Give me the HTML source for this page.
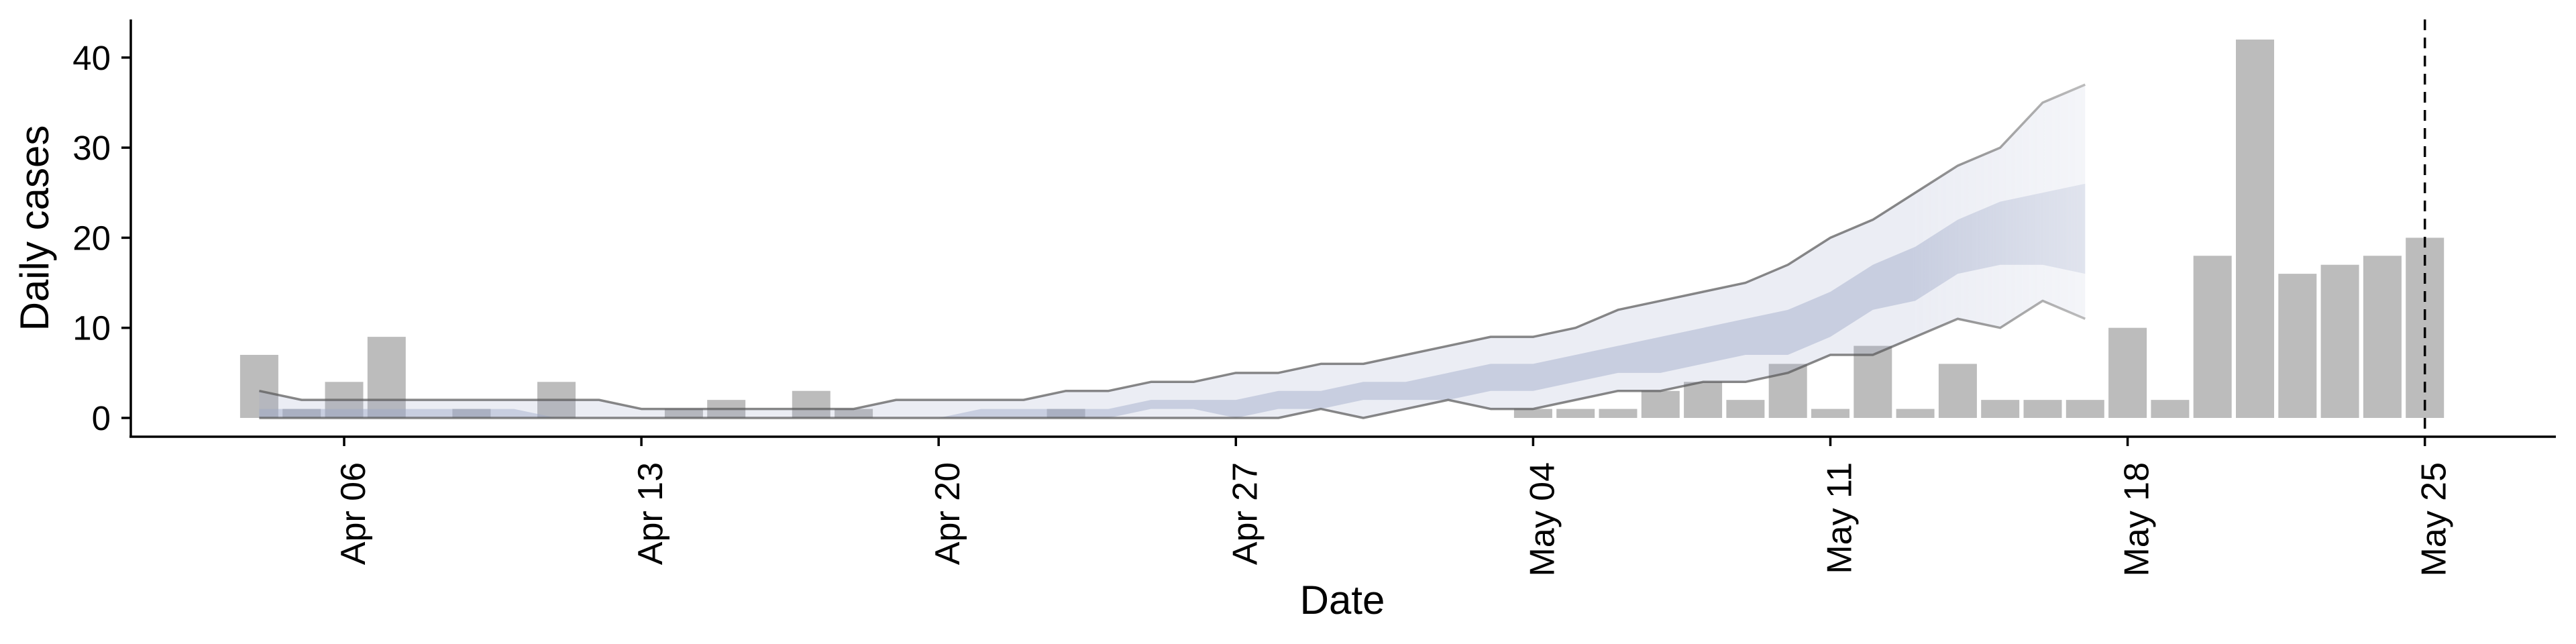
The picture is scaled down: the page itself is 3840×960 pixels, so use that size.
<!DOCTYPE html>
<html><head><meta charset="utf-8"><style>
html,body{margin:0;padding:0;background:#fff;}
svg{display:block;font-family:"Liberation Sans",Arial,sans-serif;}
</style></head><body>
<svg id="chart" width="3840" height="960" viewBox="0 0 3840 960" xmlns="http://www.w3.org/2000/svg">
<defs>
<linearGradient id="fadeGrad" gradientUnits="userSpaceOnUse" x1="2850" y1="0" x2="3110" y2="0">
<stop offset="0" stop-color="#fff" stop-opacity="1"/>
<stop offset="1" stop-color="#fff" stop-opacity="0.55"/>
</linearGradient>
<mask id="fadeMask" maskUnits="userSpaceOnUse" x="0" y="0" width="3840" height="960">
<rect x="0" y="0" width="3840" height="960" fill="url(#fadeGrad)"/>
</mask>
</defs>
<g id="bars"></g>
<g id="ribbons" mask="url(#fadeMask)"></g>
<g id="axes"></g>
</svg>
<script>
// ---- data ----
const barDates = ["2020-04-04","2020-04-05","2020-04-06","2020-04-07","2020-04-09","2020-04-11","2020-04-14","2020-04-15","2020-04-17","2020-04-18","2020-04-23","2020-05-04","2020-05-05","2020-05-06","2020-05-07","2020-05-08","2020-05-09","2020-05-10","2020-05-11","2020-05-12","2020-05-13","2020-05-14","2020-05-15","2020-05-16","2020-05-17","2020-05-18","2020-05-19","2020-05-20","2020-05-21","2020-05-22","2020-05-23","2020-05-24","2020-05-25"];
const barValues = [7,1,4,9,1,4,1,2,3,1,1,1,1,1,3,4,2,6,1,8,1,6,2,2,2,10,2,18,42,16,17,18,20];
const ribbonStart = "2020-04-04";
const outerUpper = [3,2,2,2,2,2,2,2,2,1,1,1,1,1,1,2,2,2,2,3,3,4,4,5,5,6,6,7,8,9,9,10,12,13,14,15,17,20,22,25,28,30,35,37];
const outerLower = [0,0,0,0,0,0,0,0,0,0,0,0,0,0,0,0,0,0,0,0,0,0,0,0,0,1,0,1,2,1,1,2,3,3,4,4,5,7,7,9,11,10,13,11];
const innerUpper = [1,1,1,1,1,1,1,0,0,0,0,0,0,0,0,0,0,1,1,1,1,2,2,2,3,3,4,4,5,6,6,7,8,9,10,11,12,14,17,19,22,24,25,26];
const innerLower = [0,0,0,0,0,0,0,0,0,0,0,0,0,0,0,0,0,0,0,0,0,1,1,0,1,1,2,2,2,3,3,4,5,5,6,7,7,9,12,13,16,17,17,16];
const xTickDates = ["2020-04-06","2020-04-13","2020-04-20","2020-04-27","2020-05-04","2020-05-11","2020-05-18","2020-05-25"];
const xTickLabels = ["Apr 06","Apr 13","Apr 20","Apr 27","May 04","May 11","May 18","May 25"];
const yTicks = [0,10,20,30,40];
const vlineDate = "2020-05-25";

// ---- scales ----
const DAY = 86400000;
const x0 = Date.UTC(2020,3,6);
function dayIdx(s){const p=s.split("-");return (Date.UTC(+p[0],+p[1]-1,+p[2])-x0)/DAY;}
function xs(s){return 513 + dayIdx(s)*63.3;}
function xd(i){return 513 + i*63.3;}
function ys(v){return 623 - v*13.43;}
const NS="http://www.w3.org/2000/svg";
function mk(tag,attrs,parent){const e=document.createElementNS(NS,tag);for(const k in attrs)e.setAttribute(k,attrs[k]);parent.appendChild(e);return e;}

// bars
const gb=document.getElementById("bars");
barDates.forEach((d,i)=>{
  const cx=xs(d), y=ys(barValues[i]);
  const r=mk("rect",{x:cx-28.5,y:y,width:57,height:ys(0)-y,fill:"#bcbcbc"},gb);
  
  
});

// ribbons
const gr=document.getElementById("ribbons");
const s0=dayIdx(ribbonStart);
function band(up,lo,fill,op,name){
  let pts=up.map((v,i)=>xd(s0+i)+","+ys(v));
  for(let i=lo.length-1;i>=0;i--)pts.push(xd(s0+i)+","+ys(lo[i]));
  const p=mk("polygon",{points:pts.join(" "),fill:fill,"fill-opacity":op},gr);
  
  
}
band(outerUpper,outerLower,"#9aa6c6",0.2,"outer-interval-band");
band(innerUpper,innerLower,"#9aa6c6",0.44,"inner-interval-band");
function line(vals,name){
  const p=mk("polyline",{points:vals.map((v,i)=>xd(s0+i)+","+ys(v)).join(" "),fill:"none",stroke:"#555","stroke-opacity":0.7,"stroke-width":3.5,"stroke-linejoin":"round"},gr);
  
  
}
line(outerUpper,"upper-bound-line");
line(outerLower,"lower-bound-line");

// axes
const ga=document.getElementById("axes");
const vl=mk("line",{x1:xs(vlineDate),x2:xs(vlineDate),y1:29,y2:651,stroke:"#000","stroke-width":3.5,"stroke-dasharray":"16 11"},ga);


const ya=mk("line",{x1:195,x2:195,y1:29,y2:652,stroke:"#000","stroke-width":3.5},ga);


const xa=mk("line",{x1:193,x2:3810,y1:651,y2:651,stroke:"#000","stroke-width":3.5},ga);


yTicks.forEach(v=>{
  const y=ys(v);
  const t=mk("line",{x1:181,x2:195,y1:y,y2:y,stroke:"#000","stroke-width":3.5},ga);
  
  
  const l=mk("text",{x:165,y:y+18,"text-anchor":"end","font-size":51,fill:"#000"},ga);
  l.textContent=v;
  
  
});
xTickDates.forEach((d,i)=>{
  const x=xs(d);
  const t=mk("line",{x1:x,x2:x,y1:651,y2:665,stroke:"#000","stroke-width":3.5},ga);
  
  
  const l=mk("text",{transform:"translate("+(x+31)+",689) rotate(-90)","text-anchor":"end","font-size":52,fill:"#000"},ga);
  l.textContent=xTickLabels[i];
  
  
});
const yt=mk("text",{transform:"translate(72,340) rotate(-90)","text-anchor":"middle","font-size":60,fill:"#000"},ga);
yt.textContent="Daily cases";


const xt=mk("text",{x:2001,y:915,"text-anchor":"middle","font-size":60,fill:"#000"},ga);
xt.textContent="Date";


</script>
</body></html>
